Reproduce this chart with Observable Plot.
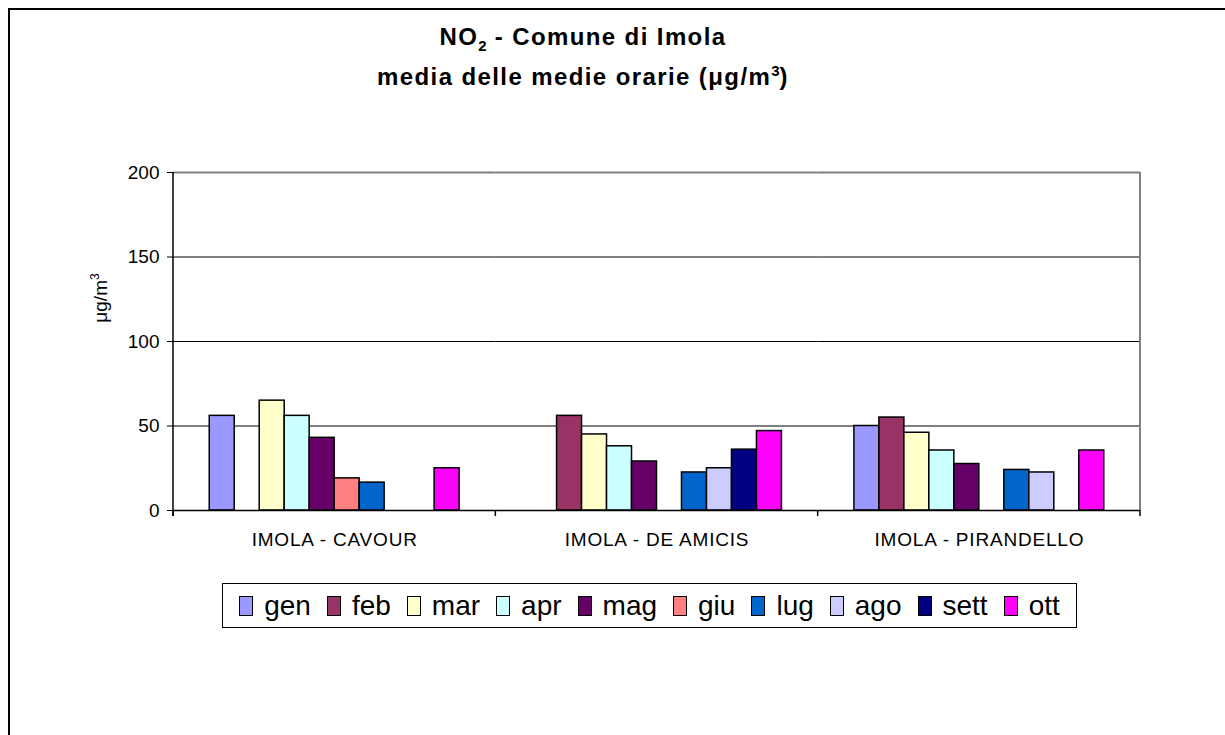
<!DOCTYPE html>
<html>
<head>
<meta charset="utf-8">
<script src="https://cdn.jsdelivr.net/npm/d3@7"></script>
<script src="https://cdn.jsdelivr.net/npm/@observablehq/plot@0.6"></script>
<style>
  html, body { margin: 0; padding: 0; background: #fff; }
  #wrap { position: relative; width: 1225px; height: 735px; overflow: hidden; font-family: "Liberation Sans", Arial, sans-serif; }
  #frame { position: absolute; left: 8px; top: 8px; width: 1240px; height: 760px; border-left: 2px solid #000; border-top: 2px solid #000; box-sizing: border-box; }
  .title { position: absolute; left: 0; width: 1166px; text-align: center; font-weight: bold; font-size: 24px; letter-spacing: 1.4px; color: #000; white-space: nowrap; }
  #chart { position: absolute; left: 0; top: 0; }
  #ylab { position: absolute; left: 100px; top: 298px; transform: translate(-50%, -50%) rotate(-90deg); font-size: 19px; white-space: nowrap; }
  #legend { position: absolute; left: 222px; top: 583px; width: 855px; height: 45px; border: 1px solid #000; box-sizing: border-box; display: flex; align-items: center; justify-content: center; gap: 16px; font-size: 28px; }
  .item { display: flex; align-items: center; gap: 11px; }
  .sw { width: 14px; height: 20px; border: 1.5px solid #000; box-sizing: border-box; }
</style>
</head>
<body>
<div id="wrap">
  <div id="frame"></div>
  <div class="title" style="top:23px">NO<sub style="font-size:15px;letter-spacing:0">2</sub> - Comune di Imola</div>
  <div class="title" style="top:62px">media delle medie orarie (μg/m<sup style="font-size:15px;letter-spacing:0">3</sup>)</div>
  <div id="chart"></div>
  <div id="ylab">μg/m<sup style="font-size:12px">3</sup></div>
  <div id="legend"></div>
</div>
<script>
const stations = ["IMOLA - CAVOUR", "IMOLA - DE AMICIS", "IMOLA - PIRANDELLO"];
const months = ["gen", "feb", "mar", "apr", "mag", "giu", "lug", "ago", "sett", "ott"];
const colors = ["#9999FF", "#993366", "#FFFFCC", "#CCFFFF", "#660066", "#FF8080", "#0066CC", "#CCCCFF", "#000080", "#FF00FF"];
// null = no data
const cavour    = [56, null, 65, 56, 43, 19, 16.5, null, null, 25];
const deAmicis  = [null, 56, 45, 38, 29, null, 22.5, 25, 36, 47];
const pirandello= [50, 55, 46, 35.5, 27.5, null, 24, 22.5, null, 35.5];
const yTicks = [0, 50, 100, 150, 200];

const series = [cavour, deAmicis, pirandello];
const data = [];
stations.forEach((s, i) => months.forEach((m, j) => {
  const v = series[i][j];
  if (v != null) data.push({station: s, month: m, value: v});
}));

const plot = Plot.plot({
  width: 1225,
  height: 560,
  marginLeft: 173,
  marginRight: 85,
  marginTop: 172,
  marginBottom: 50,
  style: { fontFamily: "Liberation Sans, Arial, sans-serif", background: "transparent", overflow: "visible" },
  fx: { domain: stations, padding: 0, round: false, label: null },
  x: { domain: months, paddingInner: 0, paddingOuter: 1.45, round: false, axis: null },
  y: { domain: [0, 200], label: null },
  color: { domain: months, range: colors },
  marks: [
    Plot.ruleY(yTicks.slice(1, -1), { stroke: "#000", strokeWidth: 1 }),
    Plot.ruleY([200], { stroke: "#808080", strokeWidth: 2 }),
    Plot.barY(data, { fx: "station", x: "month", y: "value", fill: "month", stroke: "#000", strokeWidth: 1.5, inset: 0 }),
    Plot.ruleY([0], { stroke: "#000", strokeWidth: 1.5 }),
    Plot.axisY({ ticks: yTicks, tickSize: 6, tickPadding: 8, fontSize: 19, stroke: "#000", label: null }),
    Plot.axisFx({ anchor: "bottom", tickSize: 0, tickPadding: 22, fontSize: 19, label: null })
  ]
});
document.getElementById("chart").appendChild(plot);
d3.select(plot).selectAll("[aria-label='fx-axis tick label'] text").style("letter-spacing", "0.8px");

// axis lines & group boundary ticks from the scales
const fxs = plot.scale("fx"), ys = plot.scale("y");
const x0 = fxs.range[0], x1 = fxs.range[1];
const yb = ys.apply(0), yt = ys.apply(200);
const svg = d3.select(plot);
svg.append("line").attr("x1", x1).attr("x2", x1).attr("y1", yt).attr("y2", yb).attr("stroke", "#808080").attr("stroke-width", 2);
svg.append("line").attr("x1", x0).attr("x2", x0).attr("y1", yt).attr("y2", yb + 6).attr("stroke", "#000").attr("stroke-width", 1.5);
const bounds = stations.map(s => fxs.apply(s)).concat([x1]);
bounds.forEach(b => svg.append("line").attr("x1", b).attr("x2", b).attr("y1", yb).attr("y2", yb + 6).attr("stroke", "#000").attr("stroke-width", 1.5));

// legend
const leg = d3.select("#legend");
months.forEach((m, i) => {
  const it = leg.append("div").attr("class", "item");
  it.append("div").attr("class", "sw").style("background", colors[i]);
  it.append("span").text(m);
});
</script>
</body>
</html>
